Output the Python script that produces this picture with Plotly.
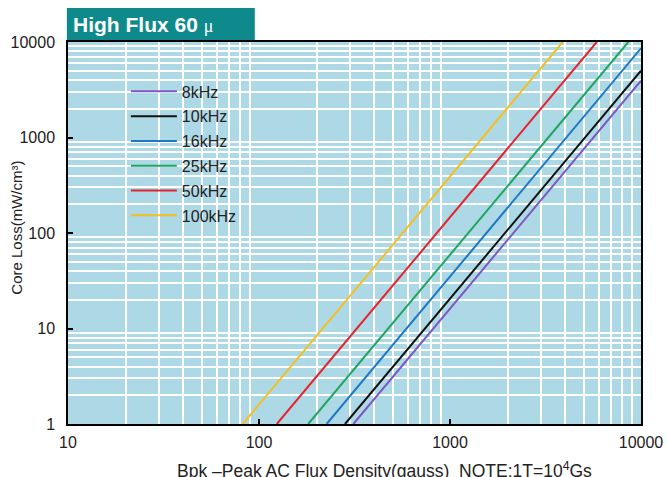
import plotly.graph_objects as go

# Series (Bpk in gauss, core loss in mW/cm^3)
names = ["8kHz", "10kHz", "16kHz", "25kHz", "50kHz", "100kHz"]
colors = ["#7E57C2", "#111111", "#1F78C4", "#1FA65C", "#E8222B", "#F5BF1F"]
bpk_8k = [312, 10000]
loss_8k = [1, 3935]
bpk_10k = [282, 10000]
loss_10k = [1, 5006]
bpk_16k = [226, 10000]
loss_16k = [1, 8590]
bpk_25k = [181, 8580]
loss_25k = [1, 10000]
bpk_50k = [124, 5865]
loss_50k = [1, 10000]
bpk_100k = [82.2, 3890]
loss_100k = [1, 10000]

xs = [bpk_8k, bpk_10k, bpk_16k, bpk_25k, bpk_50k, bpk_100k]
ys = [loss_8k, loss_10k, loss_16k, loss_25k, loss_50k, loss_100k]

major_ticks = [10, 100, 1000, 10000]
tick_labels = ["10", "100", "1000", "10000"]
y_major = [1, 10, 100, 1000, 10000]
y_labels = ["1", "10", "100", "1000", "10000"]

x_minor = [m * d for d in (10, 100, 1000) for m in range(2, 10)]
y_minor = [m * d for d in (1, 10, 100, 1000) for m in range(2, 10)]

FONT = "Liberation Sans, Arial, Helvetica, sans-serif"

fig = go.Figure()
for i, n in enumerate(names):
    fig.add_trace(go.Scatter(x=xs[i], y=ys[i], mode="lines", name=n,
                             legendgroup=n,
                             line=dict(color=colors[i], width=2)))

fig.update_layout(
    width=667, height=477,
    margin=dict(l=68, r=26, t=42, b=53, autoexpand=False),
    paper_bgcolor="white",
    plot_bgcolor="#ADD8E6",
    font=dict(family=FONT, size=16, color="#222222"),
    showlegend=True,
    legend=dict(x=0.101, y=0.915, xanchor="left", yanchor="top",
                bgcolor="rgba(0,0,0,0)", tracegroupgap=1,
                font=dict(family=FONT, size=16, color="#222222"),
                itemwidth=46),
)

fig.update_xaxes(type="log", range=[1, 4], showgrid=False, automargin=False,
                 tickvals=major_ticks, ticktext=tick_labels,
                 ticks="inside", ticklen=5, tickcolor="black", tickwidth=1.5,
                 showline=True, linecolor="black", linewidth=1.5, mirror=True,
                 ticklabelstandoff=3,
                 tickfont=dict(size=16),
                 minor=dict(tickvals=x_minor, showgrid=True, gridcolor="white",
                            gridwidth=2, ticks=""),
                 zeroline=False)
fig.update_yaxes(type="log", range=[0, 4], showgrid=False, automargin=False,
                 tickvals=y_major, ticktext=y_labels,
                 ticks="inside", ticklen=5, tickcolor="black", tickwidth=1.5,
                 showline=True, linecolor="black", linewidth=1.5, mirror=True,
                 ticklabelstandoff=8,
                 tickfont=dict(size=16),
                 minor=dict(tickvals=y_minor, showgrid=True, gridcolor="white",
                            gridwidth=2, ticks=""),
                 zeroline=False)

# Title box
fig.add_shape(type="rect", xref="paper", yref="paper",
              x0=-0.002, x1=0.326, y0=1.005, y1=1.089,
              fillcolor="#0E8A8C", line=dict(width=0), layer="above")
fig.add_annotation(xref="paper", yref="paper", x=0.006, y=1.047,
                   xanchor="left", yanchor="middle", showarrow=False,
                   text="<b>High Flux 60</b> <span style='font-family:Liberation Serif, serif;font-size:18px'>μ</span>",
                   font=dict(family=FONT, size=21, color="white"))

# Axis titles
fig.add_annotation(xref="paper", yref="paper", x=-0.089, y=0.514,
                   xanchor="center", yanchor="middle", showarrow=False,
                   textangle=-90, text="Core Loss(mW/cm³)",
                   font=dict(family=FONT, size=15, color="#222222"))
fig.add_annotation(xref="paper", yref="paper", x=0.186, y=-0.12,
                   xanchor="left", yanchor="middle", showarrow=False,
                   text="Bpk –Peak AC Flux Density(gauss)  NOTE:1T=10<sup>4</sup>Gs",
                   font=dict(family=FONT, size=17.5, color="#222222"))

fig.write_html("out.html", config={"displayModeBar": False},
               post_script="document.body.style.margin='0';document.body.style.overflow='hidden';")
